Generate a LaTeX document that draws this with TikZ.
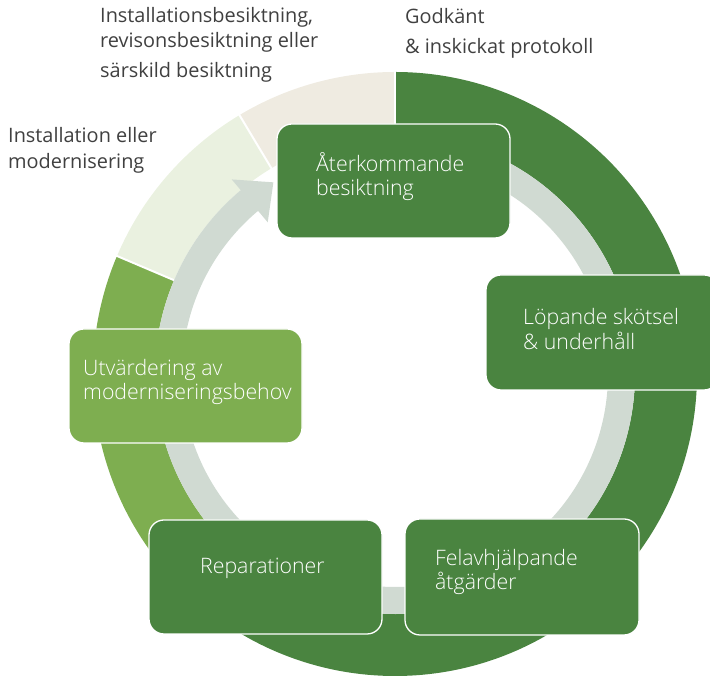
\documentclass[tikz,border=0pt]{standalone}
\usepackage{fontspec}
\setmainfont{Open Sans}
\IfFontExistsTF{Open Sans Light}{\newfontfamily\boxfont{Open Sans Light}}{%
 \IfFontExistsTF{OpenSans-Light.ttf}{\newfontfamily\boxfont{OpenSans-Light.ttf}}{%
  \IfFontExistsTF{OpenSans-Light.otf}{\newfontfamily\boxfont{OpenSans-Light.otf}}{%
   \newfontfamily\boxfont{Open Sans}}}}
\usetikzlibrary{calc}
\definecolor{dkgreen}{RGB}{74,132,64}
\definecolor{mdgreen}{RGB}{126,174,80}
\definecolor{palegreen}{RGB}{234,241,224}
\definecolor{beige}{RGB}{239,235,225}
\definecolor{ringgray}{RGB}{208,218,210}
\definecolor{labelgray}{RGB}{64,64,64}
\tikzset{
  stepbox/.style={draw=white, line width=1.3pt, rounded corners=15pt, minimum width=233pt, minimum height=114pt, inner sep=0pt},
  boxtxt/.style={font=\boxfont\fontsize{21.3}{24.5}\selectfont, text=white, align=left, inner sep=0pt, anchor=west},
  lbl/.style={font=\fontsize{19.9}{25}\selectfont, text=labelgray, align=left, inner sep=0pt, anchor=west},
  sep/.style={draw=white, line width=2pt}
}
\begin{document}
\begin{tikzpicture}[x=1pt,y=1pt]
\useasboundingbox (0,0) rectangle (710,676);
\clip (0,0) rectangle (710,676);
\begin{scope}[shift={(395,302)}]
  % coloured ring
  \fill[dkgreen] (90:302) arc[start angle=90,end angle=-130,radius=302] -- (-130:240) arc[start angle=-130,end angle=90,radius=240] -- cycle;
  \fill[mdgreen] (157:302) arc[start angle=157,end angle=230,radius=302] -- (230:240) arc[start angle=230,end angle=157,radius=240] -- cycle;
  \fill[palegreen] (121:302) arc[start angle=121,end angle=157,radius=302] -- (157:240) arc[start angle=157,end angle=121,radius=240] -- cycle;
  \fill[beige] (90:302) arc[start angle=90,end angle=121,radius=302] -- (121:240) arc[start angle=121,end angle=90,radius=240] -- cycle;
  \draw[sep] (90:238) -- (90:305);
  \draw[sep] (121:238) -- (121:305);
  \draw[sep] (157:238) -- (157:305);
  % grey circular arrow
  \fill[ringgray] (85:240) arc[start angle=85,end angle=-230,radius=240] -- (-230:254) -- (-237.6:227) -- (-230:198) -- (-230:213) arc[start angle=-230,end angle=85,radius=213] -- cycle;
\end{scope}
% boxes
\node[stepbox, fill=dkgreen] (b1) at (393.5,495) {};
\node[stepbox, fill=dkgreen, minimum height=115pt] (b2) at (602.5,343.5) {};
\node[stepbox, fill=dkgreen, minimum width=234pt, minimum height=116pt] (b3) at (522,99) {};
\node[stepbox, fill=dkgreen] (b4) at (265.5,99) {};
\node[stepbox, fill=mdgreen] (b5) at (185.5,290) {};
% box texts
\node[boxtxt] (t1) at (316,499.5) {Återkommande\\besiktning};
\node[boxtxt] (t2) at (523,347) {Löpande skötsel\\\& underhåll};
\node[boxtxt] (t3) at (435,104) {Felavhjälpande\\åtgärder};
\node[boxtxt] (t4) at (200,108) {Reparationer};
\node[boxtxt] (t5) at (83,294) {Utvärdering av\\moderniseringsbehov};
% outside labels
\node[lbl] (l1) at (100,631.5) {Installationsbesiktning,\\revisonsbesiktning eller\\[5pt]särskild besiktning};
\node[lbl] (l2) at (405,643) {Godkänt\\[5pt]\& inskickat protokoll};
\node[lbl] (l3) at (8,526) {Installation eller\\[1pt]modernisering};
\end{tikzpicture}
\end{document}
